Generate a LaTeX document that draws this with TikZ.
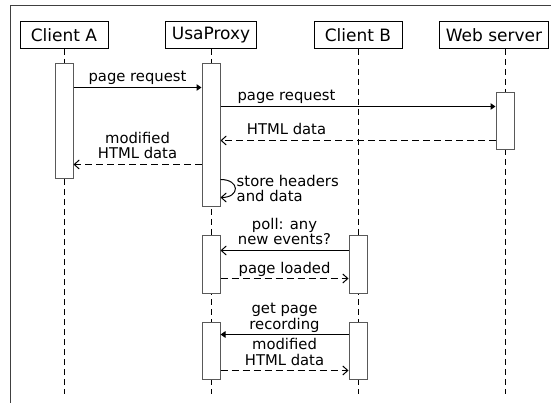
\documentclass[tikz,border=0pt]{standalone}
\usepackage{fontspec}
\setmainfont{DejaVu Sans}
\usetikzlibrary{arrows.meta,positioning}

\begin{document}
\begin{tikzpicture}[x=1pt,y=-1pt,line width=1pt,
                    head/.style={draw,fill=white,minimum width=88pt,minimum height=27pt,inner xsep=6.5pt,inner ysep=0pt,font=\fontsize{17}{20}\selectfont},
                    act/.style={draw=black!65,fill=white,minimum width=18pt,inner sep=0pt},
                    life/.style={dash pattern=on 6pt off 4pt},
                    call/.style={-{Triangle[length=5pt,width=6.5pt]}},
                    callopen/.style={-{Straight Barb[length=5pt,width=9pt]}},
                    reply/.style={dash pattern=on 7pt off 4pt,-{Straight Barb[length=5pt,width=9pt]}},
                    msg/.style={font=\fontsize{14.8}{15.6}\selectfont,inner sep=1pt,text depth=4pt,align=center}]

  \useasboundingbox (0,0) rectangle (551,403);
  \draw[black!75] (10,403) -- (10,6) -- (551,6);

  \node[head] (ca) at (64,35) {Client A};
  \node[head] (up) at (211,35) {UsaProxy};
  \node[head] (cb) at (358,35) {Client B};
  \node[head] (ws) at (494,35) {Web server};

  \draw[life] (ca.south) -- ++(0,345);
  \draw[life] (up.south) -- ++(0,345);
  \draw[life] (cb.south) -- ++(0,345);
  \draw[life] ([xshift=11pt]ws.south) -- ++(0,345);

  \node[act,minimum height=115pt,below=14.5pt of ca] (a1) {};
  \node[act,minimum height=143pt,below=14.5pt of up] (p1) {};
  \node[act,minimum height=57pt,below=43.5pt of ws,xshift=11pt] (w1) {};
  \node[act,minimum height=57pt,below=186.5pt of up] (p2) {};
  \node[act,minimum height=57pt,below=186.5pt of cb] (b2) {};
  \node[act,minimum height=57pt,below=272.5pt of up] (p3) {};
  \node[act,minimum height=57pt,below=272.5pt of cb] (b3) {};

  \draw[call] ([yshift=-24pt]a1.north east) -- node[msg,above] {page request} ([yshift=-24pt]p1.north west);
  \draw[call] ([yshift=-43pt]p1.north east) -- node[msg,above,pos=0.24] {page request} ([yshift=-14pt]w1.north west);
  \draw[reply] ([yshift=-48pt]w1.north west) -- node[msg,above,pos=0.76] {HTML data} ([yshift=-77pt]p1.north east);
  \draw[reply] ([yshift=-101pt]p1.north west) -- node[msg,above] {modified\\HTML data} ([yshift=-101pt]a1.north east);
  \draw[callopen] ([yshift=-116pt]p1.north east) to[out=0,in=0,looseness=2.8]
    node[msg,right,text depth=0pt,align=left] {store headers\\and data} ([yshift=-134pt]p1.north east);
  \draw[callopen] ([yshift=-15pt]b2.north west) -- node[msg,above] {poll: any\\new events?} ([yshift=-15pt]p2.north east);
  \draw[reply] ([yshift=-43pt]p2.north east) -- node[msg,above] {page loaded} ([yshift=-43pt]b2.north west);
  \draw[call] ([yshift=-13pt]b3.north west) -- node[msg,above] {get page\\recording} ([yshift=-13pt]p3.north east);
  \draw[reply] ([yshift=-49pt]p3.north east) -- node[msg,above] {modified\\HTML data} ([yshift=-49pt]b3.north west);
\end{tikzpicture}
\end{document}
